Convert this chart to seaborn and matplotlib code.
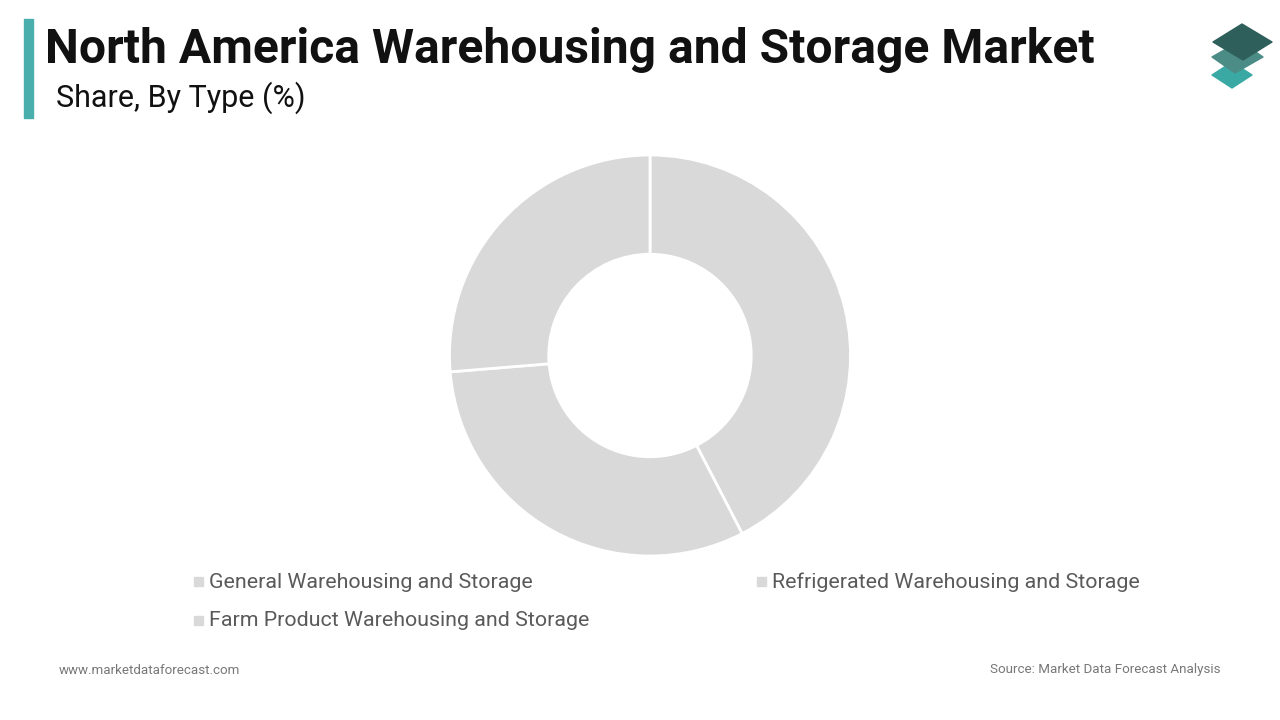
import matplotlib
matplotlib.use('Agg')
import matplotlib.pyplot as plt
from matplotlib.patches import Rectangle, Polygon
import seaborn as sns

sns.set_style('white')
plt.rcParams['font.family'] = ['Roboto', 'DejaVu Sans']

# data
types = ['General Warehousing and Storage',
         'Refrigerated Warehousing and Storage',
         'Farm Product Warehousing and Storage']
shares = [42.4, 31.3, 26.3]
slice_colors = ['#d9d9d9', '#d9d9d9', '#d9d9d9']

title = 'North America Warehousing and Storage Market'
subtitle = 'Share, By Type (%)'
site = 'www.marketdataforecast.com'
source = 'Source: Market Data Forecast Analysis'

W, H = 1280, 720
fig = plt.figure(figsize=(12.8, 7.2), dpi=100)
fig.patch.set_facecolor('white')

def fx(px):
    return px / W

def fy(py):
    return 1 - py / H

### DONUT ###
cx, cy, r = 650, 355.5, 200.5
pad = 210
ax = fig.add_axes([fx(cx - pad), fy(cy + pad), 2 * pad / W, 2 * pad / H])
ax.pie(shares, colors=slice_colors, startangle=90, counterclock=False,
       radius=1, wedgeprops=dict(width=0.495, edgecolor='white', linewidth=2))
ax.set_xlim(-pad / r, pad / r)
ax.set_ylim(-pad / r, pad / r)
ax.set_aspect('equal')
ax.axis('off')

### HEADER ###
fig.patches.append(Rectangle((fx(24), fy(118)), 9 / W, 99 / H, transform=fig.transFigure,
                             color='#4aaead', zorder=5))
fig.text(fx(45), fy(63), title, fontsize=34.6, fontweight='bold', color='#111111', va='baseline')
fig.text(fx(56), fy(107), subtitle, fontsize=22, color='#111111', va='baseline')

# logo: three stacked diamonds (bottom first)
def shape(verts, c):
    pts = [(fx(x), fy(y)) for x, y in verts]
    fig.patches.append(Polygon(pts, closed=True, transform=fig.transFigure, color=c,
                               zorder=5, joinstyle='round'))

shape([(1212, 75), (1232, 62), (1252, 75), (1232, 88)], '#3aa9a4')
shape([(1212, 57), (1240, 41), (1263, 57), (1235, 73)], '#4b8c87')
shape([(1213, 42), (1242, 24), (1272, 42), (1243, 60)], '#2e5f5b')

### LEGEND ###
leg_pos = [(198, 581), (761, 581), (198, 620)]
for (lx, ly), name, c in zip(leg_pos, types, slice_colors):
    fig.patches.append(Rectangle((fx(lx - 4.5), fy(ly + 4.5)), 9 / W, 9 / H,
                                 transform=fig.transFigure, color=c))
    fig.text(fx(lx + 11), fy(ly + 1), name, fontsize=15.4, color='#5a5a5a', va='center')

### FOOTER ###
fig.text(fx(59), fy(670), site, fontsize=9.6, color='#777777', va='center')
fig.text(fx(1220), fy(670), source, fontsize=9.6, color='#777777', va='center', ha='right')

fig.savefig('out.png', dpi=100, facecolor='white')
plt.close(fig)
